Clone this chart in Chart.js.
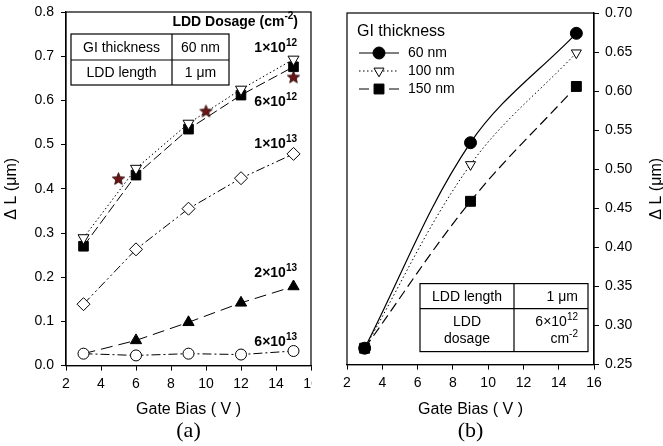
<!DOCTYPE html>
<html>
<head>
<meta charset="utf-8">
<script src="https://cdn.jsdelivr.net/npm/chart.js@4.4.0/dist/chart.umd.min.js"></script>
<style>
    html, body { margin: 0; padding: 0; background: #fff; }
    #wrap { position: relative; width: 663px; height: 446px; overflow: hidden; }
    #chartA { position: absolute; left: 0; top: 0; }
    #chartB { position: absolute; left: 330px; top: 0; }
</style>
</head>
<body>
<div id="wrap">
    <canvas id="chartA" width="312" height="446"></canvas>
    <canvas id="chartB" width="333" height="446"></canvas>
</div>
<script>
const FONT = 'Arial, "Liberation Sans", sans-serif';
const SERIF = '"Times New Roman", "Liberation Serif", serif';

// panel (a): delta L vs gate bias, one curve per LDD dosage
const biasA = [3, 6, 9, 12, 15];
const dose1e12 = [0.289, 0.446, 0.548, 0.625, 0.693];
const dose6e12 = [0.270, 0.431, 0.535, 0.612, 0.676];
const dose1e13 = [0.139, 0.263, 0.355, 0.424, 0.479];
const dose2e13 = [0.027, 0.057, 0.098, 0.142, 0.179];
const dose6e13 = [0.027, 0.023, 0.027, 0.025, 0.033];
const starBias = [5, 10, 15];
const starDL = [0.423, 0.576, 0.653];

// panel (b): delta L vs gate bias, one curve per GI thickness
const biasB = [3, 9, 15];
const giLabels = ['60 nm', '100 nm', '150 nm'];
const gi60 = [0.271, 0.534, 0.674];
const gi100 = [0.271, 0.506, 0.649];
const gi150 = [0.271, 0.459, 0.606];

Chart.defaults.font.family = FONT;
Chart.defaults.color = '#000';

function pts(xs, ys) {
    return xs.map((x, i) => ({ x: x, y: ys[i] }));
}

/**
 * Builds a small filled five-pointed star to use as a point style
 */
function makeStar(r) {
    const c = document.createElement('canvas');
    const s = Math.ceil(r * 2 + 2);
    c.width = s;
    c.height = s;
    const ctx = c.getContext('2d');
    ctx.beginPath();
    for (let i = 0; i < 10; i++) {
        const rad = i % 2 ? r * 0.45 : r;
        const ang = -Math.PI / 2 + (i * Math.PI) / 5;
        ctx.lineTo(s / 2 + rad * Math.cos(ang), s / 2 + 0.5 + rad * Math.sin(ang));
    }
    ctx.closePath();
    ctx.fillStyle = '#6b1616';
    ctx.fill();
    ctx.strokeStyle = '#2a0808';
    ctx.lineWidth = 0.8;
    ctx.stroke();
    return c;
}

/**
 * Draws text with a raised exponent, e.g. 1x10^12
 */
function supText(ctx, x, y, base, sup, tail, size, bold, align) {
    const w = bold ? 'bold ' : '';
    const bf = w + size + 'px ' + FONT;
    const sf = w + Math.round(size * 0.68) + 'px ' + FONT;
    ctx.font = bf;
    const bw = ctx.measureText(base).width;
    const tw = tail ? ctx.measureText(tail).width : 0;
    ctx.font = sf;
    const sw = ctx.measureText(sup).width;
    const total = bw + sw + tw;
    let x0 = x;
    if (align === 'right') x0 = x - total;
    if (align === 'center') x0 = x - total / 2;
    ctx.textAlign = 'left';
    ctx.textBaseline = 'middle';
    ctx.font = bf;
    ctx.fillText(base, x0, y);
    ctx.font = sf;
    ctx.fillText(sup, x0 + bw, y - size * 0.38);
    if (tail) {
        ctx.font = bf;
        ctx.fillText(tail, x0 + bw + sw, y);
    }
}

function cellText(ctx, text, x, y, align) {
    ctx.font = '14px ' + FONT;
    ctx.textAlign = align || 'center';
    ctx.textBaseline = 'middle';
    ctx.fillText(text, x, y);
}

const panelA = {
    id: 'panelA',
    afterDraw(chart) {
        const ctx = chart.ctx;
        const a = chart.chartArea;
        const ys = chart.scales.y;
        ctx.save();
        ctx.strokeStyle = '#000';
        ctx.fillStyle = '#000';
        ctx.lineWidth = 1.2;
        ctx.strokeRect(a.left, a.top, a.right - a.left, a.bottom - a.top);

        // info table
        const tl = a.left + 5, tr = a.left + 163, tt = a.top + 22, tb = a.top + 73;
        const mid = a.top + 48, div = a.left + 106;
        ctx.strokeRect(tl, tt, tr - tl, tb - tt);
        ctx.beginPath();
        ctx.moveTo(tl, mid);
        ctx.lineTo(tr, mid);
        ctx.moveTo(div, tt);
        ctx.lineTo(div, tb);
        ctx.stroke();
        cellText(ctx, 'GI thickness', (tl + div) / 2, (tt + mid) / 2 + 1);
        cellText(ctx, '60 nm', (div + tr) / 2, (tt + mid) / 2 + 1);
        cellText(ctx, 'LDD length', (tl + div) / 2, (mid + tb) / 2 + 1);
        cellText(ctx, '1 μm', (div + tr) / 2, (mid + tb) / 2 + 1);

        supText(ctx, a.right - 13, a.top + 10, 'LDD Dosage (cm', '-2', ')', 14, true, 'right');
        const doseLabels = [
            ['1×10', '12', 0.718],
            ['6×10', '12', 0.595],
            ['1×10', '13', 0.5],
            ['2×10', '13', 0.209],
            ['6×10', '13', 0.053],
        ];
        doseLabels.forEach((d) => {
            supText(ctx, a.right - 14, ys.getPixelForValue(d[2]), d[0], d[1], '', 14, true, 'right');
        });
        ctx.restore();
    },
};

const panelB = {
    id: 'panelB',
    afterDraw(chart) {
        const ctx = chart.ctx;
        const a = chart.chartArea;
        ctx.save();
        ctx.strokeStyle = '#000';
        ctx.fillStyle = '#000';
        ctx.lineWidth = 1.2;
        ctx.strokeRect(a.left, a.top, a.right - a.left, a.bottom - a.top);

        // legend
        ctx.font = '16px ' + FONT;
        ctx.textAlign = 'left';
        ctx.textBaseline = 'middle';
        ctx.fillText('GI thickness', a.left + 10, a.top + 19);
        const rowY = [a.top + 40, a.top + 58, a.top + 76];
        chart.data.datasets.forEach((ds, i) => {
            const y = rowY[i];
            ctx.save();
            ctx.lineWidth = ds.borderWidth;
            ctx.setLineDash(ds.borderDash || []);
            ctx.beginPath();
            ctx.moveTo(a.left + 12, y);
            ctx.lineTo(a.left + 52, y);
            ctx.stroke();
            ctx.setLineDash([]);
            ctx.fillStyle = ds.pointBackgroundColor;
            ctx.strokeStyle = '#000';
            ctx.lineWidth = 1;
            Chart.helpers.drawPoint(ctx, {
                pointStyle: ds.pointStyle,
                radius: ds.pointRadius,
                rotation: ds.pointRotation || 0,
                borderWidth: 1,
            }, a.left + 32, y);
            ctx.restore();
            ctx.font = '14px ' + FONT;
            ctx.textAlign = 'left';
            ctx.textBaseline = 'middle';
            ctx.fillText(giLabels[i], a.left + 61, y);
        });

        // info table
        const tl = a.left + 73, tr = a.right - 6, tt = a.bottom - 81, tb = a.bottom - 13;
        const mid = a.bottom - 56, div = a.left + 167;
        ctx.fillStyle = '#fff';
        ctx.fillRect(tl, tt, tr - tl, tb - tt);
        ctx.fillStyle = '#000';
        ctx.strokeRect(tl, tt, tr - tl, tb - tt);
        ctx.beginPath();
        ctx.moveTo(tl, mid);
        ctx.lineTo(tr, mid);
        ctx.moveTo(div, tt);
        ctx.lineTo(div, tb);
        ctx.stroke();
        cellText(ctx, 'LDD length', (tl + div) / 2, (tt + mid) / 2 + 1);
        cellText(ctx, '1 μm', tr - 10, (tt + mid) / 2 + 1, 'right');
        cellText(ctx, 'LDD', (tl + div) / 2, mid + 14);
        cellText(ctx, 'dosage', (tl + div) / 2, mid + 31);
        supText(ctx, tr - 10, mid + 14, '6×10', '12', '', 14, false, 'right');
        supText(ctx, tr - 10, mid + 31, 'cm', '-2', '', 14, false, 'right');

        // right-hand axis title, read bottom to top
        ctx.translate(chart.width - 6, (a.top + a.bottom) / 2);
        ctx.rotate(-Math.PI / 2);
        ctx.font = '16px ' + FONT;
        ctx.textAlign = 'center';
        ctx.textBaseline = 'middle';
        ctx.fillText('Δ L (μm)', 0, 0);
        ctx.restore();
    },
};

function xScale(height) {
    return {
        type: 'linear',
        min: 2,
        max: 16,
        ticks: { stepSize: 2, font: { size: 14 }, padding: 5, maxRotation: 0 },
        grid: { drawOnChartArea: false, color: '#000', tickLength: 5 },
        border: { color: '#000', width: 1.2 },
        title: {
            display: true,
            text: 'Gate Bias ( V )',
            font: { size: 16, lineHeight: 1 },
            padding: { top: 0, bottom: 0 },
        },
        afterFit(scale) {
            scale.height = height;
            scale.paddingLeft = 0;
            scale.paddingRight = 0;
        },
    };
}

function panelTitle(text) {
    return {
        display: true,
        position: 'bottom',
        fullSize: false,
        text: text,
        color: '#000',
        font: { family: SERIF, size: 22, weight: 'normal' },
        padding: { top: 0, bottom: 2 },
    };
}

const starImg = makeStar(6.5);

new Chart('chartA', {
    type: 'line',
    data: {
        datasets: [
            {
                label: 'measured',
                data: pts(starBias, starDL),
                showLine: false,
                pointStyle: starImg,
                pointRadius: 6,
            },
            {
                label: '6x10^13',
                data: pts(biasA, dose6e13),
                borderColor: '#000',
                borderWidth: 1,
                borderDash: [9, 3, 2, 3],
                pointStyle: 'circle',
                pointRadius: 5.5,
                pointBackgroundColor: '#fff',
                pointBorderColor: '#000',
                pointBorderWidth: 1,
            },
            {
                label: '2x10^13',
                data: pts(biasA, dose2e13),
                borderColor: '#000',
                borderWidth: 1,
                borderDash: [12, 6],
                pointStyle: 'triangle',
                pointRadius: [0, 6.5, 6.5, 6.5, 6.5],
                pointBackgroundColor: '#000',
                pointBorderColor: '#000',
                pointBorderWidth: 1,
            },
            {
                label: '1x10^13',
                data: pts(biasA, dose1e13),
                borderColor: '#000',
                borderWidth: 1,
                borderDash: [9, 3, 2, 3, 2, 3],
                pointStyle: 'rectRot',
                pointRadius: 6.5,
                pointBackgroundColor: '#fff',
                pointBorderColor: '#000',
                pointBorderWidth: 1,
            },
            {
                label: '1x10^12',
                data: pts(biasA, dose1e12),
                borderColor: '#000',
                borderWidth: 1,
                borderDash: [1.5, 2.5],
                pointStyle: 'triangle',
                pointRotation: 180,
                pointRadius: 6.3,
                pointBackgroundColor: '#fff',
                pointBorderColor: '#000',
                pointBorderWidth: 1,
            },
            {
                label: '6x10^12',
                data: pts(biasA, dose6e12),
                borderColor: '#000',
                borderWidth: 1,
                borderDash: [10, 4],
                pointStyle: 'rect',
                pointRadius: 6.8,
                pointBackgroundColor: '#000',
                pointBorderColor: '#000',
                pointBorderWidth: 1,
            },
        ],
    },
    options: {
        responsive: false,
        animation: false,
        layout: { autoPadding: false, padding: { left: 0, top: 12, right: 1, bottom: 0 } },
        scales: {
            x: xScale(52),
            y: {
                min: 0,
                max: 0.8,
                ticks: {
                    stepSize: 0.1,
                    font: { size: 14 },
                    padding: 7,
                    callback: (v) => v.toFixed(1),
                },
                grid: { drawOnChartArea: false, color: '#000', tickLength: 5 },
                border: { color: '#000', width: 1.2 },
                title: {
                    display: true,
                    text: 'Δ L (μm)',
                    font: { size: 16 },
                    padding: { top: 2, bottom: 0 },
                },
                afterFit(scale) {
                    scale.width = 66;
                    scale.paddingTop = 0;
                    scale.paddingBottom = 0;
                },
            },
        },
        plugins: {
            legend: { display: false },
            tooltip: { enabled: false },
            title: panelTitle('(a)'),
        },
    },
    plugins: [panelA],
});

new Chart('chartB', {
    type: 'line',
    data: {
        datasets: [
            {
                label: giLabels[0],
                data: pts(biasB, gi60),
                borderColor: '#000',
                borderWidth: 1.2,
                tension: 0.35,
                pointStyle: 'circle',
                pointRadius: 6,
                pointBackgroundColor: '#000',
                pointBorderColor: '#000',
                pointBorderWidth: 1,
            },
            {
                label: giLabels[1],
                data: pts(biasB, gi100),
                borderColor: '#000',
                borderWidth: 1,
                borderDash: [1.5, 2.5],
                tension: 0.35,
                pointStyle: 'triangle',
                pointRotation: 180,
                pointRadius: 5.8,
                pointBackgroundColor: '#fff',
                pointBorderColor: '#000',
                pointBorderWidth: 1,
            },
            {
                label: giLabels[2],
                data: pts(biasB, gi150),
                borderColor: '#000',
                borderWidth: 1.2,
                borderDash: [10, 5],
                tension: 0.35,
                pointStyle: 'rect',
                pointRadius: 7,
                pointBackgroundColor: '#000',
                pointBorderColor: '#000',
                pointBorderWidth: 1,
            },
        ],
    },
    options: {
        responsive: false,
        animation: false,
        layout: { autoPadding: false, padding: { left: 17, top: 13, right: 0, bottom: 0 } },
        scales: {
            x: xScale(53),
            y: {
                position: 'right',
                min: 0.25,
                max: 0.7,
                ticks: {
                    stepSize: 0.05,
                    font: { size: 14 },
                    padding: 6,
                    callback: (v) => v.toFixed(2),
                },
                grid: { drawOnChartArea: false, color: '#000', tickLength: 5 },
                border: { color: '#000', width: 1.2 },
                afterFit(scale) {
                    scale.width = 69;
                    scale.paddingTop = 0;
                    scale.paddingBottom = 0;
                },
            },
        },
        plugins: {
            legend: { display: false },
            tooltip: { enabled: false },
            title: panelTitle('(b)'),
        },
    },
    plugins: [panelB],
});
</script>
</body>
</html>
